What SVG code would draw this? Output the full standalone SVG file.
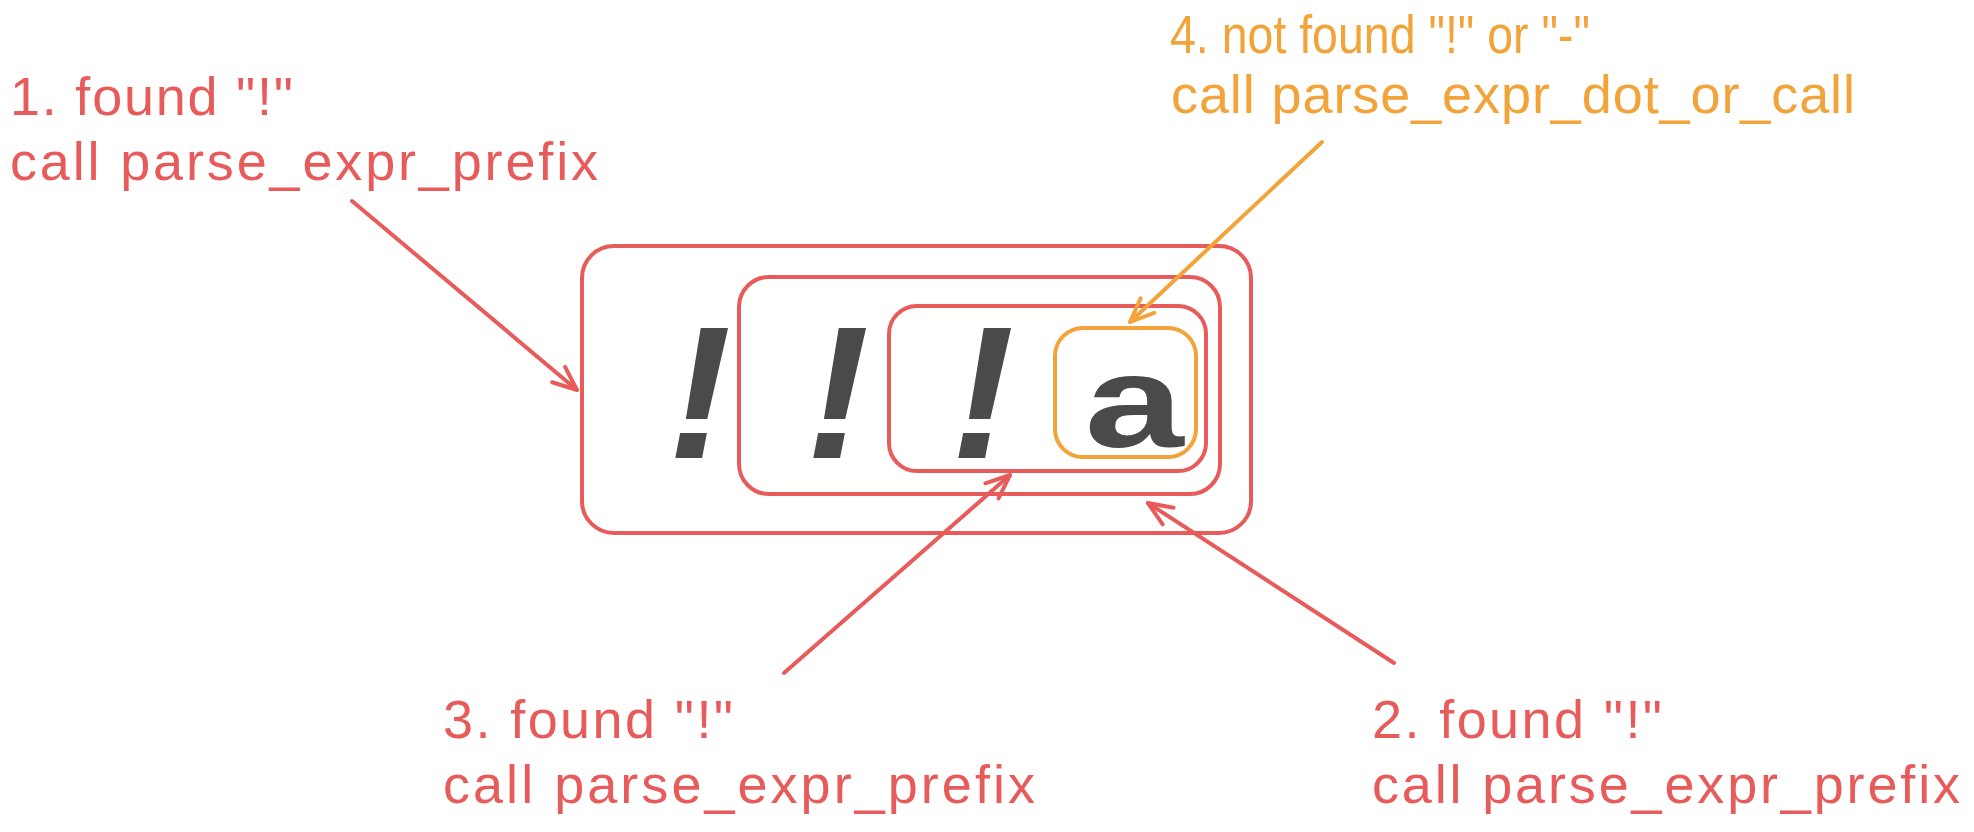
<svg xmlns="http://www.w3.org/2000/svg" width="1974" height="832" viewBox="0 0 1974 832">
<defs>
<style>
.red{stroke:#e85b5b;fill:none;stroke-width:4;stroke-linecap:round;stroke-linejoin:round}
.org{stroke:#f2a43a;fill:none;stroke-width:4;stroke-linecap:round;stroke-linejoin:round}
.lr{fill:#e85b5b;font-family:"Liberation Sans",Arial,sans-serif;font-size:54px}
.lo{fill:#f2a43a;font-family:"Liberation Sans",Arial,sans-serif;font-size:54px}
.ch{fill:#4a4a4a;font-family:"Liberation Sans",Arial,sans-serif;font-weight:bold}
</style>
<marker id="ar" viewBox="-30 -15 34 30" refX="0" refY="0" markerWidth="34" markerHeight="30" markerUnits="userSpaceOnUse" orient="auto">
<path d="M-24 -10 L0 0 L-24 10" fill="none" stroke="#e85b5b" stroke-width="4" stroke-linecap="round" stroke-linejoin="round"/>
</marker>
<marker id="ao" viewBox="-30 -15 34 30" refX="0" refY="0" markerWidth="34" markerHeight="30" markerUnits="userSpaceOnUse" orient="auto">
<path d="M-24 -10 L0 0 L-24 10" fill="none" stroke="#f2a43a" stroke-width="4" stroke-linecap="round" stroke-linejoin="round"/>
</marker>
</defs>
<rect width="1974" height="832" fill="#ffffff"/>

<g id="outer-box">
<rect class="red" x="582" y="246" width="669" height="287" rx="32"/>
<text class="ch" x="668" y="458" font-size="190" font-style="italic">!</text>
</g>
<g id="middle-box">
<rect class="red" x="739" y="277" width="481" height="217" rx="30"/>
<text class="ch" x="806" y="458" font-size="190" font-style="italic">!</text>
</g>
<g id="inner-box">
<rect class="red" x="889" y="306" width="317" height="165" rx="28"/>
<text class="ch" x="951" y="458" font-size="190" font-style="italic">!</text>
</g>
<g id="a-box">
<rect class="org" x="1055" y="328" width="141" height="129" rx="28"/>
<text class="ch" text-anchor="middle" font-size="132" transform="translate(1134 447) scale(1.35 1)">a</text>
</g>

<g id="label-1">
<text class="lr" x="10" y="115" textLength="283" lengthAdjust="spacing">1. found "!"</text>
<text class="lr" x="10" y="180" textLength="588" lengthAdjust="spacing">call parse_expr_prefix</text>
</g>
<g id="label-2">
<text class="lr" x="1372" y="738" textLength="290" lengthAdjust="spacing">2. found "!"</text>
<text class="lr" x="1372" y="803" textLength="588" lengthAdjust="spacing">call parse_expr_prefix</text>
</g>
<g id="label-3">
<text class="lr" x="443" y="738" textLength="290" lengthAdjust="spacing">3. found "!"</text>
<text class="lr" x="443" y="803" textLength="592" lengthAdjust="spacing">call parse_expr_prefix</text>
</g>
<g id="label-4">
<text class="lo" x="1170" y="53" font-size="50" textLength="420" lengthAdjust="spacingAndGlyphs">4. not found "!" or "-"</text>
<text class="lo" x="1171" y="113" textLength="684" lengthAdjust="spacing">call parse_expr_dot_or_call</text>
</g>

<g id="connectors">
<path class="red" d="M352 201 L577 390" marker-end="url(#ar)"/>
<path class="red" d="M1394 663 L1148 503" marker-end="url(#ar)"/>
<path class="red" d="M784 673 L1010 475" marker-end="url(#ar)"/>
<path class="org" d="M1322 142 L1130 322" marker-end="url(#ao)"/>
</g>
</svg>
